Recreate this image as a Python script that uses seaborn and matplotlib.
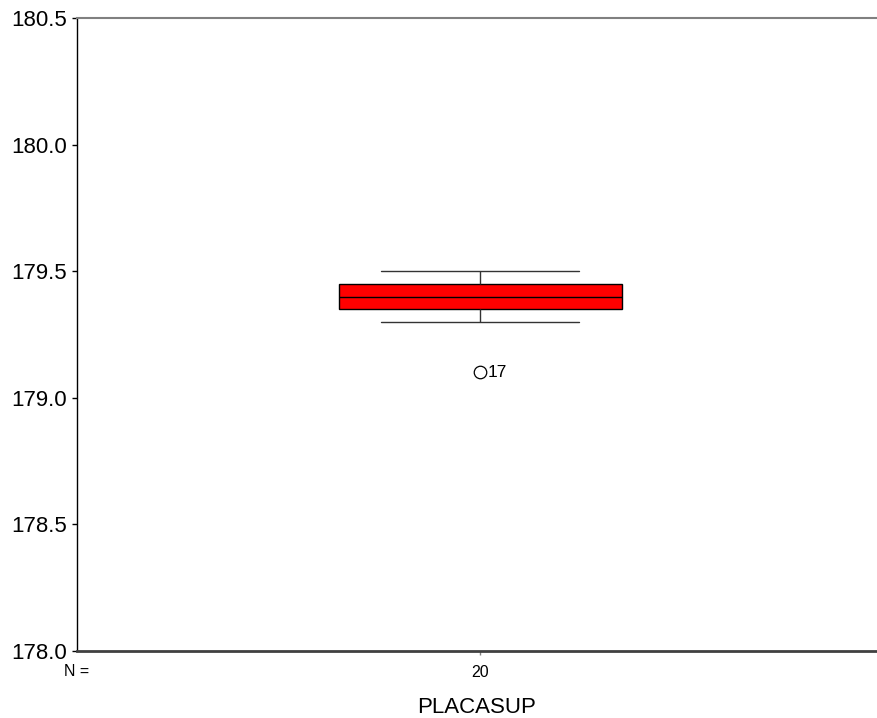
import pandas as pd
import matplotlib
matplotlib.use("Agg")
import matplotlib.pyplot as plt
import seaborn as sns

# values (N = 20, case 17 is the outlier)
variable = "PLACASUP"
placasup_values = [179.1,
                   179.3, 179.3, 179.3,
                   179.35, 179.35,
                   179.4, 179.4, 179.4, 179.4, 179.4, 179.4, 179.4, 179.4,
                   179.45, 179.45,
                   179.5, 179.5, 179.5, 179.5]
outlier_case = "17"
y_ticks = [178.0, 178.5, 179.0, 179.5, 180.0, 180.5]


def main():
    sns.set_style("white")
    plt.rcParams["font.family"] = ["Liberation Sans", "DejaVu Sans"]
    plt.rcParams["text.color"] = "black"
    plt.rcParams["xtick.labelcolor"] = "black"
    plt.rcParams["ytick.labelcolor"] = "black"
    plt.rcParams["axes.labelcolor"] = "black"

    df = pd.DataFrame({"group": [str(len(placasup_values))] * len(placasup_values),
                       variable: placasup_values})

    fig = plt.figure(figsize=(8.77, 7.18), dpi=100)
    ax = fig.add_axes([77 / 877, 1 - 651 / 718, 799 / 877, 633 / 718])

    sns.boxplot(data=df, x="group", y=variable, ax=ax, width=0.354,
                color="#ff0000", saturation=1, linewidth=1,
                boxprops=dict(edgecolor="black", facecolor="#ff0000"),
                medianprops=dict(color="black", linewidth=1),
                whiskerprops=dict(color="#333333", linewidth=1),
                capprops=dict(color="#333333", linewidth=1),
                flierprops=dict(marker="o", markersize=9, markerfacecolor="none",
                                markeredgecolor="black", markeredgewidth=0.9))

    # SPSS caps are narrower than the box
    cap_half = 0.354 * 0.7 / 2
    for line in ax.lines:
        xs = list(line.get_xdata())
        ys = list(line.get_ydata())
        if len(xs) == 2 and ys[0] == ys[1] and ys[0] in (min(placasup_values[1:]), max(placasup_values)):
            cx = (xs[0] + xs[1]) / 2
            line.set_xdata([cx - cap_half, cx + cap_half])

    # label the outlier with its case number
    ax.annotate(outlier_case, xy=(0, min(placasup_values)), xytext=(5, 0),
                textcoords="offset points", va="center", ha="left", fontsize=12.5,
                color="black")

    ax.set_xlim(-0.505, 0.495)
    ax.set_ylim(178.0, 180.5)
    ax.set_yticks(y_ticks)
    ax.set_yticklabels([f"{t:.1f}" for t in y_ticks], fontsize=16)
    ax.tick_params(axis="y", left=True, length=3.6, width=1, color="black", pad=3.6)
    ax.tick_params(axis="x", bottom=True, length=3, width=1, color="#808080",
                   labelsize=11.5, pad=7)
    ax.set_ylabel("")
    ax.set_xlabel(variable, fontsize=16, labelpad=12)

    fig.text(76.5 / 877, 1 - 672 / 718, "N =", fontsize=11.5, ha="center", va="center",
             color="black")

    ax.spines["right"].set_visible(False)
    ax.spines["left"].set_color("black")
    ax.spines["left"].set_linewidth(1)
    ax.spines["top"].set_color("#808080")
    ax.spines["top"].set_linewidth(1.5)
    ax.spines["bottom"].set_color("#404040")
    ax.spines["bottom"].set_linewidth(2)

    fig.savefig("out.png", dpi=100)


if __name__ == "__main__":
    main()
